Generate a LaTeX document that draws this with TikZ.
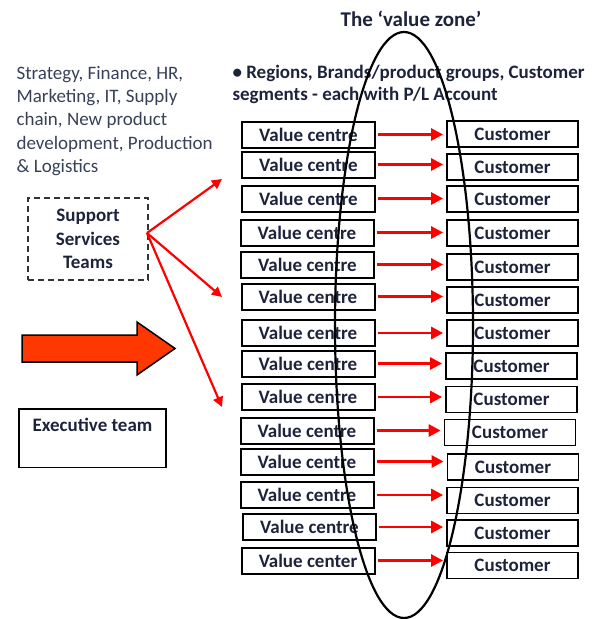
\documentclass[tikz,border=0pt]{standalone}
\usepackage{fontspec}
\setmainfont{Carlito}
\usetikzlibrary{arrows.meta,positioning}
\definecolor{txtblue}{RGB}{30,35,60}
\definecolor{lefttxt}{RGB}{55,65,88}
\definecolor{fatred}{RGB}{255,55,0}

\begin{document}
\begin{tikzpicture}[x=1pt,y=-1pt,
    lbl/.style={font=\bfseries\fontsize{19}{22}\selectfont,text=txtblue},
    vbox/.style={draw,line width=2pt,minimum width=133pt,minimum height=26pt,inner sep=0pt,lbl},
    cbox/.style={draw,line width=1.8pt,minimum width=131pt,minimum height=26pt,inner sep=0pt,lbl},
    redarr/.style={draw=red,line width=2.8pt,-{Triangle[length=12pt,width=12pt]}},
    fanarr/.style={draw=red,line width=2.2pt,-{Triangle[length=10pt,width=10pt]}}]
  \useasboundingbox (0,0) rectangle (595,619);

  % headings
  \node[lbl,font=\bfseries\fontsize{21}{22}\selectfont] (title) at (411,19) {The ‘value zone’};
  \node[lbl,align=left,anchor=west,font=\bfseries\fontsize{19}{22}\selectfont] (units) at (229,84)
    {• Regions, Brands/product groups,  Customer\\segments - each with P/L Account};
  \node[align=left,anchor=west,text=lefttxt,font=\fontsize{19}{23.3}\selectfont] (funcs) at (13,121)
    {Strategy, Finance, HR,\\Marketing, IT, Supply\\chain, New product\\development, Production\\\& Logistics};

  % left column
  \node[lbl,draw=black!80,dashed,dash pattern=on 6pt off 4pt,line width=2.2pt,
        minimum width=120pt,minimum height=82pt,align=center,
        font=\bfseries\fontsize{19}{23.5}\selectfont] (sup) at (88,239) {Support\\Services\\Teams};
  \node[lbl,draw,line width=1.8pt,minimum width=147pt,anchor=north,inner xsep=0pt,inner ysep=4.5pt,
        text height=18.5pt,text depth=31pt] (exec) at (92.5,408) {Executive team};
  \draw[line width=1.5pt,fill=fatred] (22,335) -- (137,335) -- (137,322) -- (175,348.5)
    -- (137,375) -- (137,362) -- (22,362) -- cycle;

  \coordinate (fan) at (147,233);
  \coordinate (t1) at (222,179);
  \coordinate (t2) at (222,297);
  \coordinate (t3) at (222,407);
  \foreach \to in {t1,t2,t3}
    \draw[fanarr] (fan) -- (\to);

  % value centres and customers
  \foreach \i/\vx/\vy/\cx/\cy/\txt in {
      1/308.5/134.5/512.5/134/Value centre,
      2/308.5/164.5/512.5/167/Value centre,
      3/308.5/198.5/512.5/199/Value centre,
      4/307/232.5/512.5/233/Value centre,
      5/307.5/264.5/512.5/267/Value centre,
      6/308/296.5/512.5/300/Value centre,
      7/308/333/512.5/333/Value centre,
      8/308/363.5/511.5/366/Value centre,
      9/308/397/511.5/399.5/Value centre,
      10/307/430.5/510/432.5/Value centre,
      11/307/461.5/513/467/Value centre,
      12/307/495/512.5/500.5/Value centre,
      13/309.5/527/512.5/533/Value centre,
      14/308/560.5/512.5/565.5/Value center}{
    \node[vbox] (vc\i) at (\vx,\vy) {\txt};
    \node[cbox] (cu\i) at (\cx,\cy) {Customer};
  }
  \foreach \i in {1,...,14}
    \draw[redarr,shorten <=2pt,shorten >=3pt] (vc\i.east) -- (vc\i.east -| cu\i.west);

  % the value zone
  \draw[line width=2.2pt] (404,325) ellipse (69pt and 293pt);
\end{tikzpicture}
\end{document}
